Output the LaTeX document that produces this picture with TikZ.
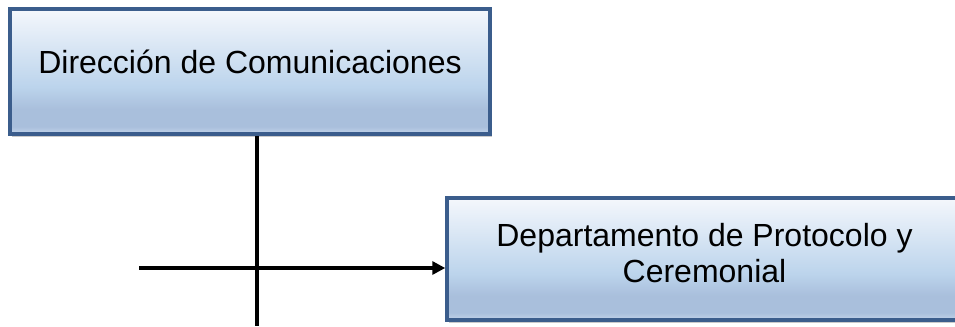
\documentclass[tikz,border=0pt]{standalone}
\usepackage{fontspec}
\setmainfont{Liberation Sans}
\usetikzlibrary{arrows.meta,shadows}

\definecolor{boxline}{HTML}{3B5D8C}
\definecolor{boxtop}{HTML}{F4F7FC}
\definecolor{boxmid}{HTML}{BCD4EC}
\definecolor{boxlow}{HTML}{A9BFDC}
\definecolor{boxbot}{HTML}{C3D4EA}
\pgfdeclareverticalshading{officebox}{100bp}{
  color(0bp)=(boxbot); color(25bp)=(boxbot); color(28bp)=(boxlow);
  color(35bp)=(boxlow); color(44bp)=(boxmid); color(75bp)=(boxtop);
  color(100bp)=(boxtop)}

\begin{document}
\begin{tikzpicture}[
  x=1bp,y=-1bp,
  unit/.style={draw=boxline,line width=3.5bp,shading=officebox,
    font=\fontsize{32bp}{36bp}\selectfont,align=center,
    drop shadow={shadow xshift=2bp,shadow yshift=-3bp,opacity=0.35,fill=black!60}},
  link/.style={line width=4bp,black},
  tip/.style={-{Triangle[length=13bp,width=13bp]}}
]
  \useasboundingbox (0,0) rectangle (955,326);
  \clip (0,0) rectangle (955,326);
  \node[unit,minimum width=480bp,minimum height=125bp,
    text height=23bp,text depth=20bp] (dir) at (250,71.5)
    {Dirección de Comunicaciones};
  \node[unit,minimum width=515bp,minimum height=122bp,
    text height=59bp,text depth=12bp] (dep) at (704.5,259)
    {Departamento de Protocolo y\\Ceremonial};
  \coordinate (vend) at (257,326);
  \coordinate (hstart) at (139,268);
  \draw[link] (vend |- dir.south) -- (vend);
  \draw[link,tip] (hstart) -- (hstart -| dep.west);
\end{tikzpicture}
\end{document}
